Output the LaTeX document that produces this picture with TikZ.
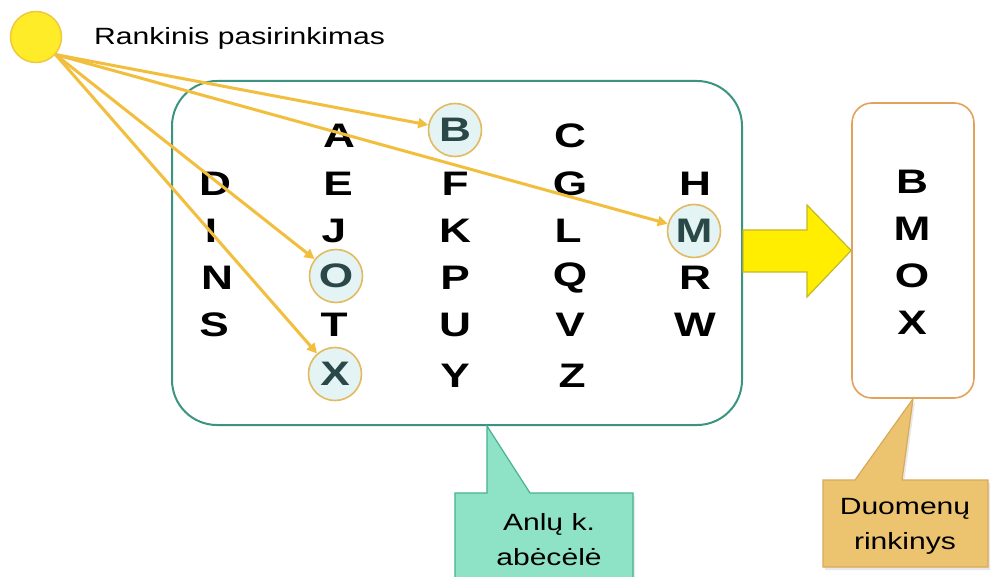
\documentclass[tikz,border=0pt]{standalone}
\usepackage{fontspec}
\setmainfont{Liberation Sans}
\usepackage{graphicx}
\usetikzlibrary{arrows.meta,calc,shadows}
\newcommand{\wx}[1]{\scalebox{1.28}[1]{#1}}
\newcommand{\wb}[1]{\scalebox{1.3}[1]{#1}}
\definecolor{tealb}{RGB}{58,148,128}
\definecolor{yarrc}{RGB}{242,190,62}
\definecolor{selfill}{RGB}{228,244,244}
\definecolor{selborder}{RGB}{226,186,96}
\definecolor{seltext}{RGB}{42,72,72}
\definecolor{resborder}{RGB}{226,162,92}
\definecolor{gfill}{RGB}{142,226,198}
\definecolor{gborder}{RGB}{72,178,148}
\definecolor{ofill}{RGB}{236,196,112}
\definecolor{oborder}{RGB}{216,170,92}
\definecolor{bigfill}{RGB}{255,238,0}
\definecolor{bigborder}{RGB}{196,184,40}
\definecolor{sunfill}{RGB}{255,236,40}
\definecolor{sunborder}{RGB}{240,200,64}
\tikzset{
  ltr/.style={font=\fontsize{34}{36}\selectfont\bfseries, inner sep=0pt},
  selc/.style={ltr, circle, draw=selborder, line width=1.6pt, fill=selfill,
               minimum size=53pt, text=seltext},
  yarr/.style={draw=yarrc, line width=3pt, -{Triangle[length=10pt,width=10pt]}},
  ctext/.style={font=\fontsize{23.5}{35}\selectfont, align=center, inner sep=0pt},
  softshadow/.style={drop shadow={opacity=0.18, shadow xshift=2pt, shadow yshift=-3pt}},
  gcall/.style={fill=gfill, draw=gborder, line width=1.2pt, softshadow},
  ocall/.style={fill=ofill, draw=oborder, line width=1.2pt, softshadow},
}
\begin{document}
\begin{tikzpicture}[x=1pt,y=-1pt]
\clip (0,0) rectangle (993,577);
\fill[white] (0,0) rectangle (993,577);

% alphabet box
\node[draw=tealb, line width=2pt, rounded corners=45pt,
      minimum width=570pt, minimum height=344pt] (alpha) at (457,253) {};
% result box
\node[draw=resborder, line width=1.6pt, rounded corners=20pt, fill=white,
      minimum width=122pt, minimum height=295pt] (res) at (913,250.5) {};

% sun
\node[circle, fill=sunfill, draw=sunborder, line width=1.5pt, minimum size=51pt] (src) at (36,37) {};
\node[ctext, anchor=base west] (title) at (94,45) {\wx{Rankinis pasirinkimas}};

% letters
\node[ltr] (A) at (339,136) {\wb{A}};
\node[selc] (B) at (455,130) {\wb{B}};
\node[ltr] (C) at (570,136) {\wb{C}};
\node[ltr] (D) at (215,184) {\wb{D}};
\node[ltr] (E) at (338,184) {\wb{E}};
\node[ltr] (F) at (455,184) {\wb{F}};
\node[ltr] (G) at (570,184) {\wb{G}};
\node[ltr] (H) at (695,184) {\wb{H}};
\node[ltr] (I) at (211,231) {\wb{I}};
\node[ltr] (J) at (334,231) {\wb{J}};
\node[ltr] (K) at (455,231) {\wb{K}};
\node[ltr] (L) at (568,231) {\wb{L}};
\node[selc] (M) at (694,231) {\wb{M}};
\node[ltr] (N) at (217,278) {\wb{N}};
\node[selc] (O) at (336,276) {\wb{O}};
\node[ltr] (P) at (455,278) {\wb{P}};
\node[ltr] (Q) at (570,278) {\wb{Q}};
\node[ltr] (R) at (695,278) {\wb{R}};
\node[ltr] (S) at (214,325) {\wb{S}};
\node[ltr] (T) at (334,325) {\wb{T}};
\node[ltr] (U) at (455,325) {\wb{U}};
\node[ltr] (V) at (570,325) {\wb{V}};
\node[ltr] (W) at (695,325) {\wb{W}};
\node[selc] (X) at (335,374) {\wb{X}};
\node[ltr] (Y) at (455,376) {\wb{Y}};
\node[ltr] (Z) at (572,376) {\wb{Z}};

% result letters
\node[ltr] (rB) at (912,182) {\wb{B}};
\node[ltr] (rM) at (912,229) {\wb{M}};
\node[ltr] (rO) at (912,276) {\wb{O}};
\node[ltr] (rX) at (912,323) {\wb{X}};

% selection arrows
\coordinate (s0) at (src.-42);
\draw[yarr] (s0) -- (B);
\draw[yarr] (s0) -- (M);
\draw[yarr] (s0) -- (O);
\draw[yarr] (s0) -- (X);

% big arrow
\draw[fill=bigfill, draw=bigborder, line width=1.2pt]
  (alpha.east |- 0,230) -- (807,230) -- (807,205) -- (res.west) -- (807,297) -- (807,272)
  -- (alpha.east |- 0,272) -- cycle;

% callouts
\draw[gcall] (455,493) -- (487,493) -- (alpha.south -| 487,0) -- (530,493) -- (633,493) -- (633,600) -- (455,600) -- cycle;
\node[ctext] (gtxt) at (549,540) {\wx{Anlų k.}\\\wx{abėcėlė}};
\draw[ocall] (823,480) -- (855,480) -- (res.south) -- (902,480) -- (988,480) -- (988,567) -- (823,567) -- cycle;
\node[ctext] (otxt) at (905,526) {\wx{Duomenų}\\\wx{rinkinys}};
\end{tikzpicture}
\end{document}
